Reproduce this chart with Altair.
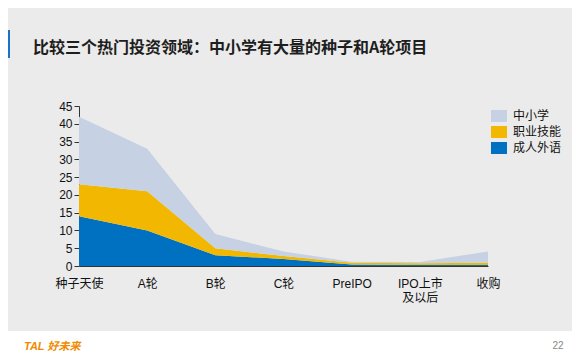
import altair as alt
import pandas as pd

categories = ["种子天使", "A轮", "B轮", "C轮", "PreIPO", "IPO上市\n及以后", "收购"]
series = ["中小学", "职业技能", "成人外语"]
adult = [14, 10, 3, 2, 0.4, 0.3, 0.3]          # 成人外语
vocational = [9, 11, 2, 0.8, 0.5, 0.5, 0.6]    # 职业技能
k12 = [19, 12, 4, 1.3, 0.3, 0.3, 3.2]          # 中小学
colors = ["#c6d1e3", "#f2b700", "#0070c0"]
y_ticks = [0, 5, 10, 15, 20, 25, 30, 35, 40, 45]
title_text = "比较三个热门投资领域：中小学有大量的种子和A轮项目"

rows = []
for name, vals, order in [("成人外语", adult, 0), ("职业技能", vocational, 1), ("中小学", k12, 2)]:
    for c, v in zip(categories, vals):
        rows.append({"cat": c, "series": name, "value": v, "ord": order})
df = pd.DataFrame(rows)

FONT = "Liberation Sans, Noto Sans CJK SC"

area = alt.Chart(df).mark_area(opacity=1).encode(
    x=alt.X("cat:N", sort=categories, title=None,
            scale=alt.Scale(type="point", padding=0),
            axis=alt.Axis(labelAngle=0, ticks=False, domainColor="#333333",
                          labelPadding=12, labelFontSize=12, labelColor="#111111",
                          labelFont=FONT, labelExpr="split(datum.label, '\\n')",
                          labelLineHeight=14)),
    y=alt.Y("value:Q", stack="zero", title=None,
            scale=alt.Scale(domain=[0, 45], nice=False),
            axis=alt.Axis(values=y_ticks, grid=False, domainColor="#333333",
                          tickColor="#333333", tickSize=5, labelPadding=2,
                          labelFontSize=12, labelColor="#111111", labelFont=FONT)),
    color=alt.Color("series:N", scale=alt.Scale(domain=series, range=colors),
                    legend=alt.Legend(title=None, orient="none", legendX=412, legendY=2,
                                      symbolType="M-1,-0.75L1,-0.75L1,0.75L-1,0.75Z",
                                      symbolSize=256, symbolStrokeWidth=0,
                                      labelFontSize=12, labelFont=FONT, labelColor="#111111",
                                      rowPadding=2, labelOffset=6, padding=0)),
    order=alt.Order("ord:Q", sort="ascending"),
)

one = pd.DataFrame({"a": [0]})

band = alt.Chart(one).mark_rect(color="white").encode(
    x=alt.value(-71), x2=alt.value(493), y=alt.value(225), y2=alt.value(248))

tab = alt.Chart(one).mark_rect(color="#1a73c6").encode(
    x=alt.value(-71), x2=alt.value(-69), y=alt.value(-76), y2=alt.value(-48))

title = alt.Chart(one).mark_text(
    text=title_text, align="left", baseline="middle", fontSize=16,
    fontWeight="bold", font="Noto Sans CJK SC", color="#1e1e1e").encode(
    x=alt.value(-46), y=alt.value(-58))

page = alt.Chart(one).mark_text(
    text="22", align="center", baseline="middle", fontSize=10,
    font=FONT, color="#888888").encode(x=alt.value(479), y=alt.value(240))

tal = alt.Chart(one).mark_text(
    text="TAL 好未来", align="left", baseline="middle", fontSize=11,
    fontWeight="bold", fontStyle="italic", font=FONT, color="#f08a00").encode(
    x=alt.value(-55), y=alt.value(241))

chart = alt.layer(band, area, tab, title, page, tal).properties(
    width=409, height=160,
    autosize=alt.AutoSizeParams(type="none"),
    padding={"left": 71, "top": 98, "right": 84, "bottom": 88},
).configure(background="#ebebeb").configure_view(stroke=None)

chart.save("out.html", embed_options={"renderer": "svg", "actions": False})
